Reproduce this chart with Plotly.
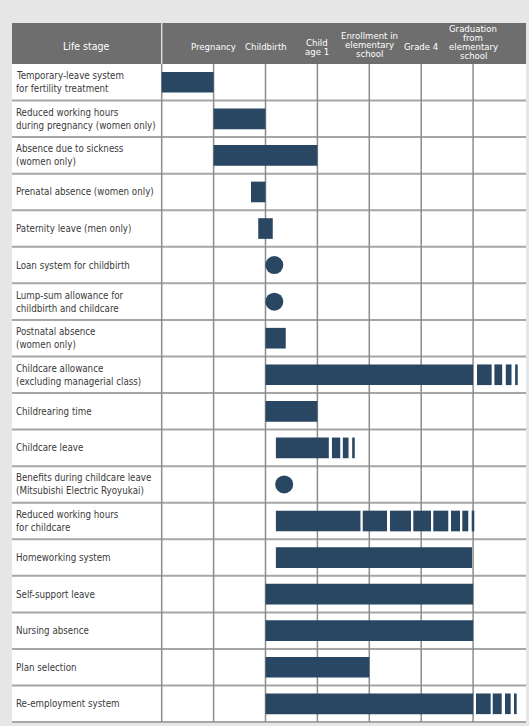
import plotly.graph_objects as go

# header stages (one entry per column boundary), split into lines
stages = [
    ['Pregnancy'],
    ['Childbirth'],
    ['Child', 'age 1'],
    ['Enrollment in', 'elementary', 'school'],
    ['Grade 4'],
    ['Graduation', 'from', 'elementary', 'school'],
]

rows = [
    ['Temporary-leave system', 'for fertility treatment'],
    ['Reduced working hours', 'during pregnancy (women only)'],
    ['Absence due to sickness', '(women only)'],
    ['Prenatal absence (women only)'],
    ['Paternity leave (men only)'],
    ['Loan system for childbirth'],
    ['Lump-sum allowance for', 'childbirth and childcare'],
    ['Postnatal absence', '(women only)'],
    ['Childcare allowance', '(excluding managerial class)'],
    ['Childrearing time'],
    ['Childcare leave'],
    ['Benefits during childcare leave', '(Mitsubishi Electric Ryoyukai)'],
    ['Reduced working hours', 'for childcare'],
    ['Homeworking system'],
    ['Self-support leave'],
    ['Nursing absence'],
    ['Plan selection'],
    ['Re-employment system'],
]

# bar segments in column units (0 = pregnancy column start)
seg_row = [0, 1, 2, 3, 4, 7,
           8, 8, 8, 8, 8,
           9,
           10, 10, 10, 10,
           12, 12, 12, 12, 12, 12, 12, 12,
           13, 14, 15, 16,
           17, 17, 17, 17, 17]
seg_start = [0.0, 1.0, 1.0, 1.72, 1.86, 2.0,
             2.0, 6.075, 6.41, 6.63, 6.81,
             2.0,
             2.20, 3.28, 3.49, 3.67,
             2.20, 3.873, 4.399, 4.848, 5.233, 5.574, 5.792, 5.973,
             2.20, 2.0, 2.0, 2.0,
             2.0, 6.056, 6.378, 6.615, 6.788]
seg_end = [1.0, 2.0, 3.0, 2.0, 2.14, 2.39,
           6.0, 6.358, 6.56, 6.74, 6.86,
           3.0,
           3.22, 3.44, 3.60, 3.72,
           3.83, 4.341, 4.803, 5.189, 5.522, 5.748, 5.907, 6.023,
           5.98, 6.0, 6.0, 4.0,
           6.0, 6.339, 6.551, 6.724, 6.840]

dot_row = [5, 6, 11]
dot_x = [2.17, 2.17, 2.36]

W, H = 529, 726
X0_PX, COL_W = 161.7, 51.9
TOP_PX, ROW_H = 64, 36.56
LEFT_PX, RIGHT_PX, HEAD_PX = 12, 526, 23

def px_x(p):
    return (p - X0_PX) / COL_W

def px_y(p):
    return (p - TOP_PX) / ROW_H

NAVY = '#294762'
FONT = 'DejaVu Sans Condensed, Liberation Sans Narrow, sans-serif'

fig = go.Figure()
fig.add_trace(go.Bar(
    y=[r + 0.5 for r in seg_row],
    x=[e - s for s, e in zip(seg_start, seg_end)],
    base=seg_start,
    orientation='h',
    width=0.565,
    marker=dict(color=NAVY, line=dict(width=0)),
    hoverinfo='skip',
))
fig.add_trace(go.Scatter(
    x=dot_x, y=[r + 0.5 for r in dot_row], mode='markers',
    marker=dict(color=NAVY, size=18, line=dict(width=0)),
    hoverinfo='skip',
))

shapes = []
xl, xr = px_x(LEFT_PX), px_x(RIGHT_PX)
n = len(rows)
# white table body
shapes.append(dict(type='rect', x0=xl, x1=xr, y0=0, y1=n, fillcolor='white',
                   line=dict(width=0), layer='below'))
# header
shapes.append(dict(type='rect', x0=xl, x1=xr, y0=px_y(HEAD_PX), y1=0,
                   fillcolor='#6e6e6e', line=dict(width=0), layer='below'))
shapes.append(dict(type='line', x0=0, x1=0, y0=px_y(HEAD_PX), y1=0,
                   line=dict(color='#d8d8d8', width=1.5), layer='below'))
# horizontal row lines
for i in range(1, n + 1):
    shapes.append(dict(type='line', x0=xl, x1=xr, y0=i, y1=i,
                       line=dict(color='#a6a6a6', width=2), layer='below'))
# vertical grid lines
for c in range(0, 7):
    shapes.append(dict(type='line', x0=c, x1=c, y0=0, y1=n,
                       line=dict(color='#8c8c8c', width=1.5), layer='below'))

annotations = []
annotations.append(dict(x=px_x(86), y=px_y(46), text='Life stage', showarrow=False,
                        xanchor='center', yanchor='middle',
                        font=dict(family=FONT, size=10.5, color='white')))
stage_mid = [46, 46, 47, 44, 46, 42]
for k, lines in enumerate(stages):
    m = len(lines)
    for j, t in enumerate(lines):
        ypx = stage_mid[k] + (j - (m - 1) / 2) * 9
        annotations.append(dict(x=k + 1, y=px_y(ypx), text=t, showarrow=False,
                                xanchor='center', yanchor='middle', borderpad=0,
                                font=dict(family=FONT, size=9.5, color='white')))
for i, lines in enumerate(rows):
    m = len(lines)
    for j, t in enumerate(lines):
        yy = i + 0.5 + (j - (m - 1) / 2) * 13 / ROW_H
        annotations.append(dict(x=px_x(14.5), y=yy, text=t, showarrow=False,
                                xanchor='left', yanchor='middle', borderpad=0,
                                font=dict(family=FONT, size=9.7, color='#3a3a3a')))

fig.update_layout(
    width=W, height=H,
    margin=dict(l=0, r=0, t=0, b=0, pad=0),
    paper_bgcolor='#e6e6e6', plot_bgcolor='#e6e6e6',
    showlegend=False,
    barmode='overlay',
    xaxis=dict(range=[px_x(0), px_x(W)], visible=False, fixedrange=True),
    yaxis=dict(range=[px_y(H), px_y(0)], visible=False, fixedrange=True),
    shapes=shapes,
    annotations=annotations,
)

# drop the browser's default 8px body margin so the figure fills the window
fig.write_html('out.html', config=dict(displayModeBar=False),
               post_script="document.body.style.margin='0';")
